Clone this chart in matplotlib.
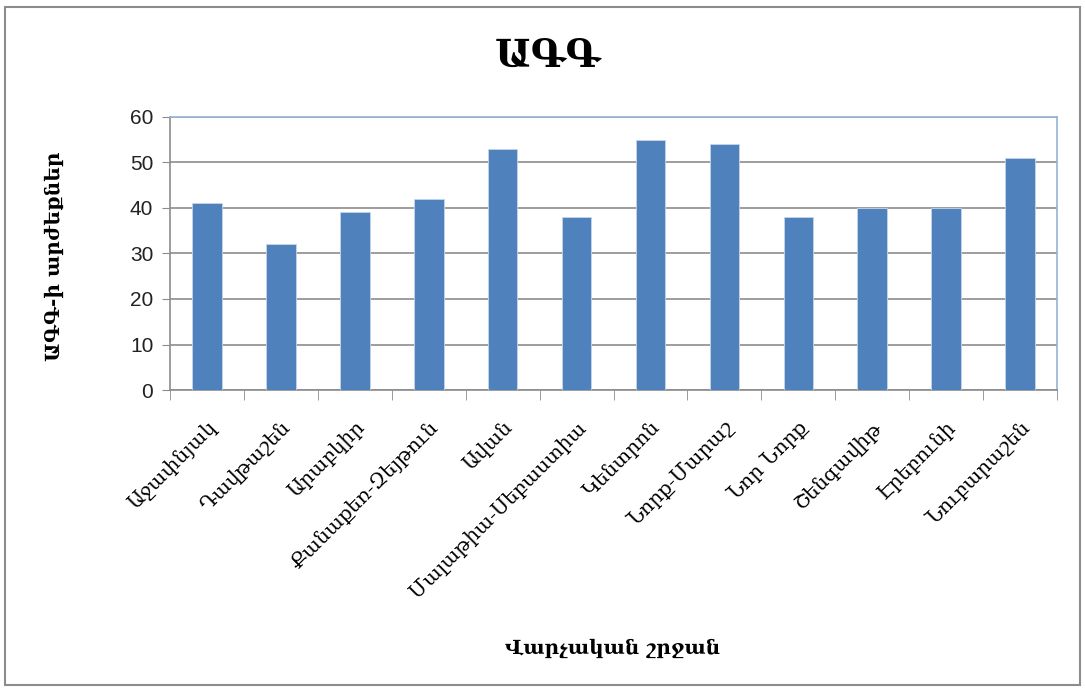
import matplotlib.pyplot as plt
from matplotlib.patches import Rectangle

districts = ['Աջափնյակ', 'Դավթաշեն', 'Արաբկիր', 'Քանաքեռ-Զեյթուն', 'Ավան',
             'Մալաթիա-Սեբաստիա', 'Կենտրոն', 'Նորք-Մարաշ', 'Նոր Նորք',
             'Շենգավիթ', 'Էրեբունի', 'Նուբարաշեն']
values = [41, 32, 39.2, 42, 53, 38, 55, 54, 38, 40, 40, 51]
yticks = [0, 10, 20, 30, 40, 50, 60]

serif = ['DejaVu Serif']
sans = ['Liberation Sans', 'DejaVu Sans']

fig = plt.figure(figsize=(10.85, 6.92), dpi=100)
ax = fig.add_axes([0.1567, 0.4364, 0.8175, 0.3946])

x = list(range(len(districts)))
ax.bar(x, values, width=0.4, color='#4f81bd', edgecolor='#c6d5ea', linewidth=0.6, zorder=3)

ax.set_xlim(-0.5, len(districts) - 0.5)
ax.set_ylim(0, 60)
ax.set_yticks(yticks)
ax.set_yticklabels([str(v) for v in yticks], family=sans, fontsize=15, color='#222222')
ax.yaxis.grid(True, color='#8c8c8c', linewidth=1.2, zorder=0)
ax.tick_params(axis='y', length=6, color='#8c8c8c', pad=6)

# category ticks sit between bars
ax.set_xticks([i - 0.5 for i in range(len(districts) + 1)], minor=True)
ax.tick_params(axis='x', which='minor', length=7, color='#8c8c8c')
ax.set_xticks(x)
ax.set_xticklabels(districts, family=serif, fontsize=14.5, rotation=45,
                   ha='right', va='top', rotation_mode='anchor')
ax.tick_params(axis='x', which='major', length=0, pad=20)

for s in ['left', 'bottom']:
    ax.spines[s].set_color('#8c8c8c')
    ax.spines[s].set_linewidth(1.2)
for s in ['top', 'right']:
    ax.spines[s].set_color('#95b3d7')
    ax.spines[s].set_linewidth(1.2)

fig.text(0.505, 0.92, 'ԱԳԳ', family=serif, fontsize=28, fontweight='bold',
         ha='center', va='center')
fig.text(0.05, 0.63, 'ԱԳԳ-ի արժեքներ', family=serif, fontsize=14.5, fontweight='bold',
         rotation=90, ha='center', va='center')
fig.text(0.565, 0.063, 'Վարչական շրջան', family=serif, fontsize=14.5, fontweight='bold',
         ha='center', va='center')

fig.patches.append(Rectangle((0.005, 0.01), 0.99, 0.98, transform=fig.transFigure,
                             fill=False, edgecolor='#8c8c8c', linewidth=1.5))

fig.savefig('out.png', dpi=100)
